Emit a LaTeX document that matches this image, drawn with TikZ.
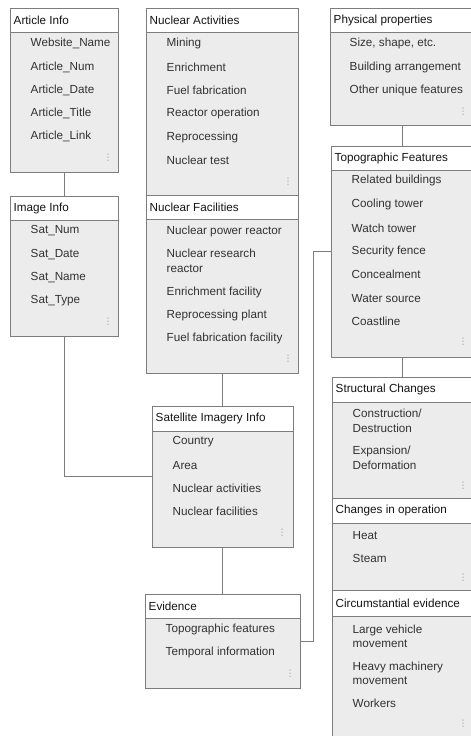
\documentclass[tikz,border=0pt]{standalone}
\usepackage{fontspec}
\setmainfont{Liberation Sans}
\newfontfamily\dejavu{DejaVu Sans}
\definecolor{bfill}{RGB}{236,236,236}
\definecolor{bline}{RGB}{125,125,125}
\definecolor{itxt}{RGB}{50,50,50}
\definecolor{htxt}{RGB}{20,20,20}
\tikzset{
  boxbody/.style={draw=bline, fill=bfill, line width=0.8pt, anchor=north west, inner sep=0pt, outer sep=0pt},
  boxhead/.style={draw=bline, fill=white, line width=0.8pt, anchor=north west, inner sep=0pt, outer sep=0pt},
  htext/.style={anchor=west, inner sep=0pt, text=htxt, font=\fontsize{11.7}{14.5}\selectfont},
  itemtext/.style={anchor=west, inner sep=0pt, text=itxt, align=left, font=\fontsize{11.7}{14.5}\selectfont},
  vdots/.style={inner sep=0pt, text=bline!80!white, font=\dejavu\fontsize{9}{9}\selectfont},
  conn/.style={draw=bline, line width=0.8pt}
}
% name, x, ytop, xright, yheadbottom, ybottom, title
\newcommand\ubox[7]{%
  \pgfmathsetmacro\bw{#4-#2}%
  \pgfmathsetmacro\bh{#6-#3}%
  \pgfmathsetmacro\hh{#5-#3}%
  \pgfmathsetmacro\ty{(#3+#5)/2}%
  \pgfmathsetmacro\tx{#2+3.5}%
  \node[boxbody, minimum width=\bw pt, minimum height=\bh pt] (#1) at (#2,#3) {};
  \node[boxhead, minimum width=\bw pt, minimum height=\hh pt] (#1h) at (#2,#3) {};
  \node[htext] (#1t) at (\tx,\ty) {#7};
}
\newcommand\uitem[4]{\node[itemtext] (#1) at (#2,#3) {#4};}
\newcommand\udots[3]{\node[vdots] (#1) at (#2,#3) {⋮};}
\begin{document}
\begin{tikzpicture}[x=1pt,y=-1pt]
\useasboundingbox (0,0) rectangle (471,736);
\clip (0,0) rectangle (471,736);
\fill[white] (0,0) rectangle (471,736);

% Article Info
\ubox{ai}{10}{8}{118}{32}{172}{Article Info}
\uitem{ai1}{30.5}{43.5}{Website\_Name}
\uitem{ai2}{30.5}{67.5}{Article\_Num}
\uitem{ai3}{30.5}{90.5}{Article\_Date}
\uitem{ai4}{30.5}{113.5}{Article\_Title}
\uitem{ai5}{30.5}{136.5}{Article\_Link}
\udots{aid}{108}{158}

% Image Info
\ubox{ii}{10}{196}{118}{220}{336}{Image Info}
\uitem{ii1}{30.5}{230.5}{Sat\_Num}
\uitem{ii2}{30.5}{254.5}{Sat\_Date}
\uitem{ii3}{30.5}{277.5}{Sat\_Name}
\uitem{ii4}{30.5}{300.5}{Sat\_Type}
\udots{iid}{108}{322}

% Nuclear Activities
\ubox{na}{146}{8}{298}{32}{195}{Nuclear Activities}
\uitem{na1}{166.5}{43.5}{Mining}
\uitem{na2}{166.5}{67.5}{Enrichment}
\uitem{na3}{166.5}{90.5}{Fuel fabrication}
\uitem{na4}{166.5}{113.5}{Reactor operation}
\uitem{na5}{166.5}{137.5}{Reprocessing}
\uitem{na6}{166.5}{160.5}{Nuclear test}
\udots{nad}{288}{182}

% Nuclear Facilities
\ubox{nf}{146}{195}{298}{219}{373}{Nuclear Facilities}
\uitem{nf1}{166.5}{231.5}{Nuclear power reactor}
\uitem{nf2}{166.5}{261}{Nuclear research\\reactor}
\uitem{nf3}{166.5}{292.5}{Enrichment facility}
\uitem{nf4}{166.5}{315.5}{Reprocessing plant}
\uitem{nf5}{166.5}{338.5}{Fuel fabrication facility}
\udots{nfd}{288}{359}

% Satellite Imagery Info
\ubox{si}{152}{406}{293}{431}{547}{Satellite Imagery Info}
\uitem{si1}{172.5}{441.5}{Country}
\uitem{si2}{172.5}{465.5}{Area}
\uitem{si3}{172.5}{488.5}{Nuclear activities}
\uitem{si4}{172.5}{511.5}{Nuclear facilities}
\udots{sid}{282}{533}

% Evidence
\ubox{ev}{145}{594}{300}{618}{688}{Evidence}
\uitem{ev1}{165.5}{629.5}{Topographic features}
\uitem{ev2}{165.5}{652.5}{Temporal information}
\udots{evd}{290}{674}

% Physical properties
\ubox{pp}{330}{8}{474}{32}{125}{Physical properties}
\uitem{pp1}{349.5}{43.5}{Size, shape, etc.}
\uitem{pp2}{349.5}{67.5}{Building arrangement}
\uitem{pp3}{349.5}{90.5}{Other unique features}
\udots{ppd}{463}{112}

% Topographic Features
\ubox{tf}{331}{146}{473}{170}{357}{Topographic Features}
\uitem{tf1}{351.5}{180.5}{Related buildings}
\uitem{tf2}{351.5}{204.5}{Cooling tower}
\uitem{tf3}{351.5}{228.5}{Watch tower}
\uitem{tf4}{351.5}{251.5}{Security fence}
\uitem{tf5}{351.5}{274.5}{Concealment}
\uitem{tf6}{351.5}{298.5}{Water source}
\uitem{tf7}{351.5}{321.5}{Coastline}
\udots{tfd}{463}{342}

% Structural Changes
\ubox{sc}{332}{377}{472}{402}{498}{Structural Changes}
\uitem{sc1}{352.5}{421}{Construction/\\Destruction}
\uitem{sc2}{352.5}{458}{Expansion/\\Deformation}
\udots{scd}{463}{486}

% Changes in operation
\ubox{co}{332}{498}{472}{523}{590}{Changes in operation}
\uitem{co1}{352.5}{535.5}{Heat}
\uitem{co2}{352.5}{558.5}{Steam}
\udots{cod}{463}{578}

% Circumstantial evidence
\ubox{ce}{332}{590}{472}{616}{745}{Circumstantial evidence}
\uitem{ce1}{352.5}{636.5}{Large vehicle\\movement}
\uitem{ce2}{352.5}{673.5}{Heavy machinery\\movement}
\uitem{ce3}{352.5}{703.5}{Workers}
\udots{ced}{463}{724}

% connectors
\draw[conn] (ai.south) -- (iih.north);
\draw[conn] (ii.south) |- (si.west);
\draw[conn] (nf.south) -- (nf.south |- sih.north);
\draw[conn] (si.south) -- (si.south |- evh.north);
\draw[conn] (ev.east) -- ++(13,0) |- (tf.west);
\draw[conn] (pp.south) -- (pp.south |- tfh.north);
\draw[conn] (tf.south) -- (tf.south |- sch.north);
\end{tikzpicture}
\end{document}
